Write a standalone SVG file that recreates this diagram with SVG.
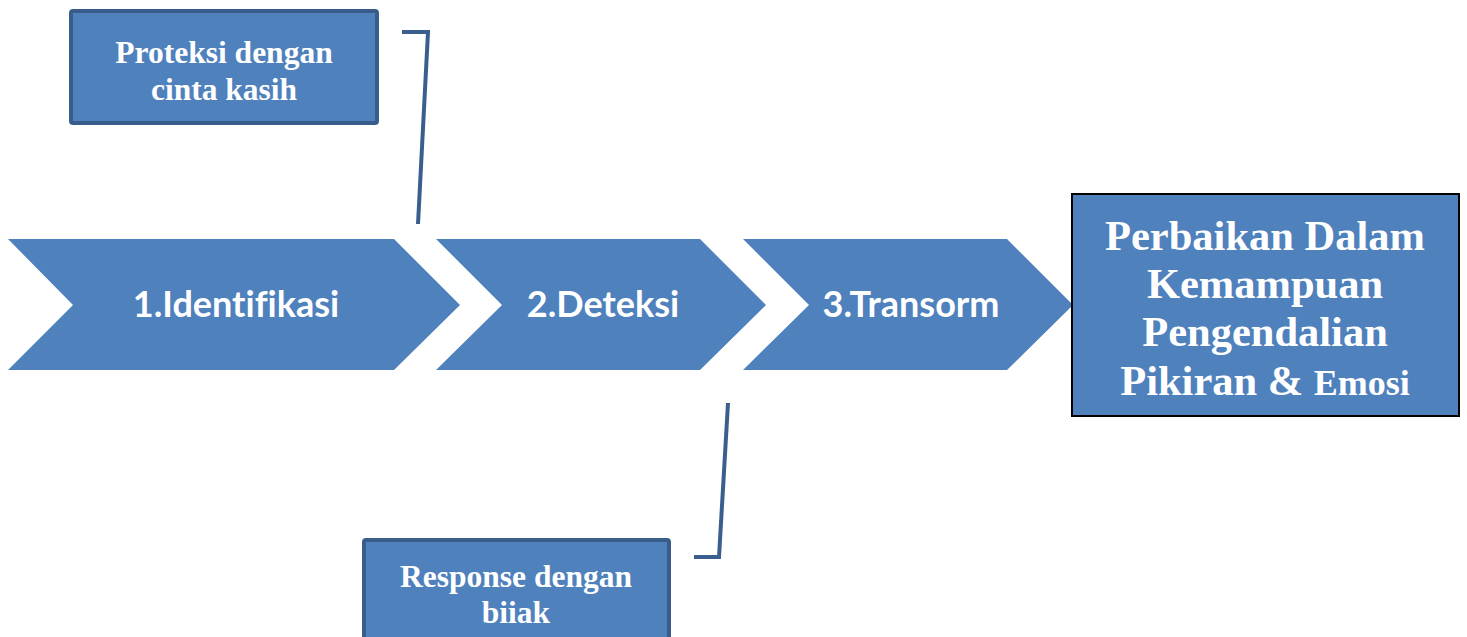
<svg xmlns="http://www.w3.org/2000/svg" width="1467" height="637" viewBox="0 0 1467 637">
<style>
.chev{fill:#4F81BD;}
.box{fill:#4F81BD;stroke:#385D8A;stroke-width:4;}
.goal{fill:#4F81BD;stroke:#000;stroke-width:2;}
.ct{font-family:Lato,"Open Sans",sans-serif;font-weight:bold;font-size:36px;fill:#fff;text-anchor:middle;font-variant-ligatures:none;}
.bt{font-family:"Liberation Serif",serif;font-weight:bold;font-size:31.5px;fill:#fff;text-anchor:middle;}
.gt{font-family:"Liberation Serif",serif;font-weight:bold;font-size:42.5px;fill:#fff;text-anchor:middle;}
.conn{fill:none;stroke:#3A5F8E;stroke-width:4;stroke-linejoin:miter;}
</style>
<rect width="1467" height="637" fill="#fff"/>
<g id="connectors">
<polyline class="conn" points="402,32 428,32 418,224"/>
<polyline class="conn" points="728,403 719,557 694,557"/>
</g>
<g id="step1">
<polygon class="chev" points="8,239 394,239 460,305 394,370 8,370 73,305"/>
<text class="ct" x="236" y="317">1.Identifikasi</text>
</g>
<g id="step2">
<polygon class="chev" points="436,239 700,239 766,305 700,370 436,370 502,305"/>
<text class="ct" x="603" y="317">2.Deteksi</text>
</g>
<g id="step3">
<polygon class="chev" points="743,239 1007,239 1073,305 1007,370 743,370 809,305"/>
<text class="ct" x="911" y="317">3.Transorm</text>
</g>
<g id="goal">
<rect class="goal" x="1072" y="194" width="387" height="222"/>
<text class="gt" x="1265" y="250">Perbaikan Dalam</text>
<text class="gt" x="1265" y="298">Kemampuan</text>
<text class="gt" x="1265" y="346">Pengendalian</text>
<text class="gt" x="1265" y="395">Pikiran &amp; <tspan font-size="36">Emosi</tspan></text>
</g>
<g id="protect">
<rect class="box" x="71" y="11" width="306" height="112" rx="2"/>
<text class="bt" x="224" y="63">Proteksi dengan</text>
<text class="bt" x="224" y="100">cinta kasih</text>
</g>
<g id="response">
<rect class="box" x="364" y="540" width="305" height="110" rx="2"/>
<text class="bt" x="516" y="587">Response dengan</text>
<text class="bt" x="516" y="623">biiak</text>
</g>
</svg>
